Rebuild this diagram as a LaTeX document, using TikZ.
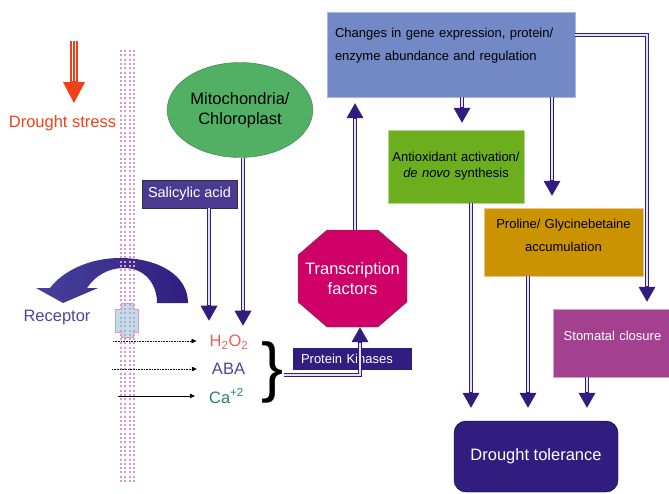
\documentclass[tikz,border=0pt]{standalone}
\usepackage{fontspec}
\setmainfont{Liberation Sans}
\usetikzlibrary{arrows.meta,shapes.geometric}

\definecolor{dpurple}{HTML}{311D80}
\definecolor{gapc}{HTML}{E4E0F4}
\definecolor{dsred}{HTML}{EE4117}
\definecolor{mempink}{HTML}{DE96CE}
\definecolor{recblue}{HTML}{B8E0E6}
\definecolor{recpurple}{HTML}{4A46A0}
\definecolor{sacol}{HTML}{4A3A92}
\definecolor{mccol}{HTML}{52B064}
\definecolor{tfcol}{HTML}{CF0068}
\definecolor{chgcol}{HTML}{7289C6}
\definecolor{aocol}{HTML}{6CAE1E}
\definecolor{pgcol}{HTML}{CC9300}
\definecolor{stcol}{HTML}{A3408F}
\definecolor{hcol}{HTML}{F25A5A}
\definecolor{cacol}{HTML}{2A7F6A}
\definecolor{arrl}{HTML}{46429A}
\definecolor{arrr}{HTML}{301E80}

\tikzset{
  dbl/.style={draw=dpurple, line width=4.4pt, shorten >=#1,
    -{Triangle[width=17pt,length=15pt,line width=0pt]},
    postaction={draw=gapc, line width=1.4pt, -, shorten >={#1+16pt}}},
  dbl/.default=0pt,
  redarr/.style={draw=dsred, line width=8pt, shorten >=#1,
    -{Triangle[width=22pt,length=21pt,line width=0pt]},
    postaction={draw=white, line width=4.8pt, -, shorten >={#1+22pt}},
    postaction={draw=dsred, line width=1.5pt, -, shorten >={#1+22pt}}},
  sig/.style={line width=0.6pt, -{Triangle[width=4.5pt,length=5pt]}},
  lbl/.style={font=\fontsize{16.5}{19.5}\selectfont, inner sep=2pt},
  procbox/.style={inner xsep=8pt, align=center, font=\fontsize{13}{16}\selectfont}
}

\begin{document}
\begin{tikzpicture}[x=1pt,y=-1pt]
\useasboundingbox (0,0) rectangle (669,493);

% receptor and signal arrow across the membrane
\shade[left color=arrl, right color=arrr] (188,303) .. controls (188,275) and (158,258) .. (120,258)
  .. controls (88,258) and (62,272) .. (50,288) -- (36,288) -- (63,303) -- (98,288) -- (87,288)
  .. controls (95,276) and (108,268) .. (124,268) .. controls (145,268) and (157,284) .. (157,303) -- cycle;
\draw[fill=recblue, draw=mempink, line width=0.8pt] (121,303) -- (133,303) -- (133,309) -- (138,309) -- (138,332)
  -- (133,332) -- (133,337) -- (121,337) -- (121,332) -- (115,332) -- (115,309) -- (121,309) -- cycle;
\foreach \x in {121.3,124.6,130.3,133.6}
  \draw[mempink, line width=2pt, dash pattern=on 2pt off 2.3pt] (\x,50) -- (\x,483);

\node (ds) [lbl, text=dsred] at (62.5,123) {Drought stress};
\node (rec) [lbl, text=recpurple] at (57,318) {Receptor};
\node (mc) [ellipse, draw=mccol!70!black, fill=mccol, minimum width=130pt, minimum height=95pt, lbl, align=center] at (240,110) {Mitochondria/\\Chloroplast};
\node (sa) [draw=black!80, fill=sacol, text=white, font=\fontsize{14.5}{17}\selectfont, minimum width=95pt, minimum height=28pt] at (189.5,194) {Salicylic acid};

\node (h2o2) [lbl, text=hcol] at (229,342) {H\textsubscript{2}O\textsubscript{2}};
\node (aba) [lbl, text=recpurple] at (228.5,369) {ABA};
\node (ca) [lbl, text=cacol] at (226.5,396) {Ca\textsuperscript{+2}};
\node (brace) [inner sep=0pt, font=\fontsize{66}{66}\selectfont] at (273,372) {\}};

\fill[tfcol, draw=black!70] (298,255) -- (327,230) -- (378,230) -- (407,255) -- (407,302) -- (378,327) -- (327,327) -- (298,302) -- cycle;
\node (tf) [text=white, lbl, minimum width=109pt, minimum height=97pt, align=center] at (352.5,278.5) {Transcription\\factors};
\node (pk) [fill=dpurple, text=white, font=\fontsize{13}{15}\selectfont, text width=103pt, inner xsep=8pt, minimum height=22pt, align=left] at (352.5,359) {Protein Kinases};

\node (chg) [fill=chgcol, draw=chgcol!60!white, font=\fontsize{13}{23}\selectfont, text width=232pt, inner xsep=8pt, inner ysep=15pt, text height=10pt, text depth=45pt, align=left] at (451,54.5) {Changes in gene expression, protein/\\enzyme abundance and regulation};
\node (ao) [fill=aocol, draw=aocol!50!white, procbox, inner xsep=1pt, text width=134pt, minimum height=73pt] at (456,166.5) {Antioxidant activation/\\\textit{de novo} synthesis};
\node (pg) [fill=pgcol, draw=pgcol!50!white, procbox, font=\fontsize{13}{23}\selectfont, text width=143pt, inner ysep=11pt, text height=9.5pt, text depth=36.5pt] at (563.5,242) {Proline/ Glycinebetaine\\accumulation};
\node (st) [fill=stcol, draw=stcol!50!white, procbox, text=white, text width=103pt, inner ysep=10pt, text height=21.6pt, text depth=26.4pt] at (612.5,343) {Stomatal closure};
\node (dt) [fill=dpurple, draw=black, rounded corners=12pt, text=white, lbl, minimum width=164pt, minimum height=71pt] at (536,456.5) {Drought tolerance};

% connectors
\coordinate (dstop) at (74,41);
\draw[redarr=10pt] (dstop) -- (dstop |- ds.north);

\coordinate (m1) at (113,341);
\coordinate (m2) at (112,369);
\coordinate (m3) at (118,396);
\draw[sig, densely dotted, shorten >=11pt] (m1) -- (h2o2.west |- m1);
\draw[sig, densely dotted, shorten >=13pt] (m2) -- (aba.west |- m2);
\draw[sig, shorten >=12pt] (m3) -- (ca.west |- m3);

\coordinate (sa1) at ([xshift=19.5pt]sa.south);
\coordinate (mc1) at ([xshift=3pt]mc.south);
\draw[dbl=12pt] (sa1) -- (sa1 |- h2o2.north);
\draw[dbl=7pt] (mc1) -- (mc1 |- h2o2.north);

\coordinate (br1) at ([yshift=-3pt]brace.east);
\coordinate (tf1) at ([xshift=7.5pt]tf.south);
\coordinate (tf2) at ([xshift=2.5pt]tf.north);
\draw[dbl] (br1) -| (tf1);
\draw[dbl=6pt] (tf2) -- (tf2 |- chg.south);

\coordinate (ao1) at ([xshift=6pt]ao.north);
\coordinate (pg1) at ([xshift=-11.5pt]pg.north);
\coordinate (st1) at ([xshift=34.5pt]st.north);
\coordinate (c2) at ([yshift=19.5pt]chg.east);
\draw[dbl=7pt] (ao1 |- chg.south) -- (ao1);
\draw[dbl=12pt] (pg1 |- chg.south) -- (pg1);
\draw[dbl=7pt] (c2) -| (st1);

\coordinate (ao2) at ([xshift=15pt]ao.south);
\coordinate (pg2) at ([xshift=-35.5pt]pg.south);
\coordinate (st2) at ([xshift=-25.5pt]st.south);
\draw[dbl=13pt] (ao2) -- (ao2 |- dt.north);
\draw[dbl=13pt] (pg2) -- (pg2 |- dt.north);
\draw[dbl=13pt] (st2) -- (st2 |- dt.north);
\end{tikzpicture}
\end{document}
